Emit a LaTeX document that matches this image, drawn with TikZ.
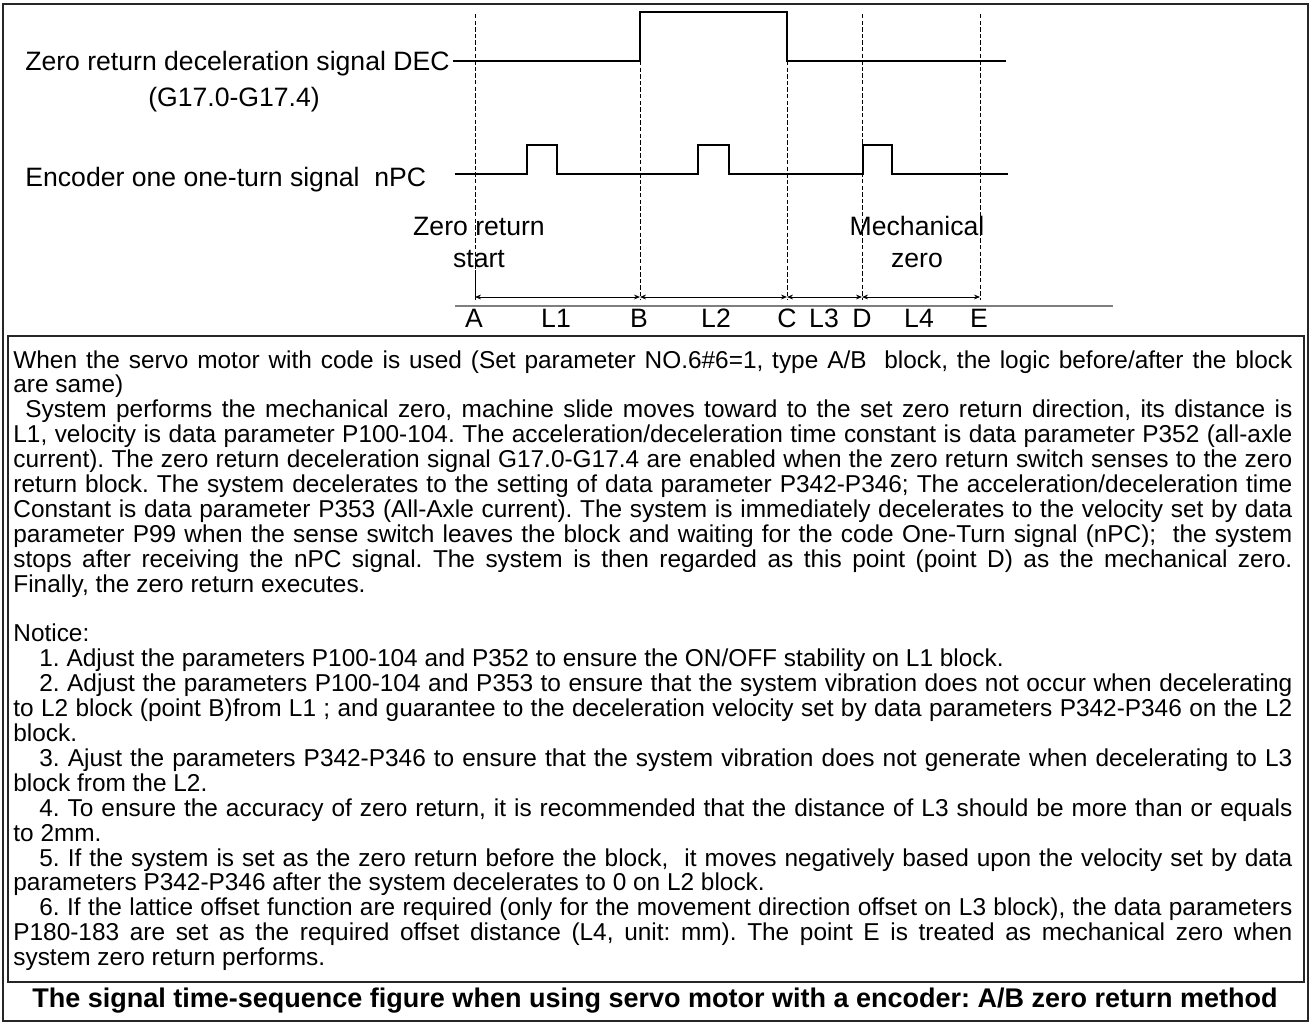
\documentclass[tikz,border=0pt]{standalone}
\usepackage{fontspec}
\setmainfont{Liberation Sans}
\usepackage{tikz}
\usetikzlibrary{arrows.meta, positioning}
\definecolor{AxisGray}{HTML}{7F7F7F}
\newcommand{\bodysize}{\fontsize{12.2}{12.45}\selectfont\lineskiplimit=-100pt\parskip=0pt\frenchspacing}
\newcommand{\labelsize}{\fontsize{13.3}{15}\selectfont}

\begin{document}
\begin{tikzpicture}[x=0.5pt, y=-0.5pt,
        signal/.style={line width=1.1pt, black},
        guide/.style={line width=0.35pt, dash pattern=on 2.2pt off 1.1pt},
        dimline/.style={line width=0.45pt, {Stealth[length=3pt,width=2.4pt]}-{Stealth[length=3pt,width=2.4pt]}},
        lbl/.style={inner sep=0pt, font=\labelsize, align=center}]
    \useasboundingbox (0,0) rectangle (1312,1023);
    \draw[line width=1.1pt, black!85] (3,4) rectangle (1308,1021);
    \draw[line width=0.6pt, black!85] (8,336) rectangle (1304,982);

    % signal names
    \node[lbl, anchor=base east] (decname) at (450,70) {Zero return deceleration signal DEC};
    \node[lbl] (decbits) at (234,100) {(G17.0-G17.4)};
    \node[lbl, anchor=base west] (npcname) at (25,186) {Encoder one one-turn signal\ \ nPC};

    % waveforms
    \draw[signal] (453,61) -- (640,61) -- (640,12) -- (787,12) -- (787,61) -- (1006,61);
    \draw[signal] (455,174) -- (527,174) -- (527,145) -- (557,145) -- (557,174)
        -- (698,174) -- (698,145) -- (729,145) -- (729,174)
        -- (863,174) -- (863,145) -- (892,145) -- (892,174) -- (1008,174);

    % guide lines and distances
    \foreach \nm/\x/\top in {A/475/14, B/640/61, C/787/61, D/862/14, E/980/14} {
        \coordinate (top\nm) at (\x,\top);
        \coordinate (dim\nm) at (\x,297);
    }
    \coordinate (footA) at (475,270);
    \draw[guide] (topA) -- (footA);
    \draw[line width=0.45pt] (footA) -- (475,300);
    \foreach \nm/\x in {B/640, C/787, D/862, E/980}
        \draw[guide] (top\nm) -- (\x,300);
    \foreach \a/\b in {A/B, B/C, C/D, D/E}
        \draw[dimline] (dim\a) -- (dim\b);

    \coordinate (axisL) at (455,306);
    \coordinate (axisR) at (1113,306);
    \draw[AxisGray, line width=0.8pt] (axisL) -- (axisR);

    \node[lbl] (start) at (479,242) {Zero return\\[1pt]start};
    \node[lbl] (mzero) at (917,242) {Mechanical\\[1pt]zero};
    \foreach \nm/\x in {A/474, L1/556, B/639, L2/716, C/787, L3/824, D/862, L4/919, E/979}
        \node[lbl] (mark\nm) at (\x,318) {\nm};

    % explanation
    \node[anchor=north west, inner sep=0pt, text width=639.5pt, align=justify, font=\bodysize] (body) at (13,350) {%
        When the servo motor with code is used (Set parameter NO.6\#6=1, type A/B\ \ block, the logic before/after the block\linebreak
        are same)\par
        \hspace*{6pt}System performs the mechanical zero, machine slide moves toward to the set zero return direction, its distance is\linebreak
        L1, velocity is data parameter P100-104. The acceleration/deceleration time constant is data parameter P352 (all-axle\linebreak
        current). The zero return deceleration signal G17.0-G17.4 are enabled when the zero return switch senses to the zero\linebreak
        return block. The system decelerates to the setting of data parameter P342-P346; The acceleration/deceleration time\linebreak
        Constant is data parameter P353 (All-Axle current). The system is immediately decelerates to the velocity set by data\linebreak
        parameter P99 when the sense switch leaves the block and waiting for the code One-Turn signal (nPC);\ \ the system\linebreak
        stops after receiving the nPC signal. The system is then regarded as this point (point D) as the mechanical zero.\linebreak
        Finally, the zero return executes.\par
        \mbox{}\par
        Notice:\par
        \hspace*{13pt}1. Adjust the parameters P100-104 and P352 to ensure the ON/OFF stability on L1 block.\par
        \hspace*{13pt}2. Adjust the parameters P100-104 and P353 to ensure that the system vibration does not occur when decelerating\linebreak
        to L2 block (point B)from L1 ; and guarantee to the deceleration velocity set by data parameters P342-P346 on the L2\linebreak
        block.\par
        \hspace*{13pt}3. Ajust the parameters P342-P346 to ensure that the system vibration does not generate when decelerating to L3\linebreak
        block from the L2.\par
        \hspace*{13pt}4. To ensure the accuracy of zero return, it is recommended that the distance of L3 should be more than or equals\linebreak
        to 2mm.\par
        \hspace*{13pt}5. If the system is set as the zero return before the block,\ \ it moves negatively based upon the velocity set by data\linebreak
        parameters P342-P346 after the system decelerates to 0 on L2 block.\par
        \hspace*{13pt}6. If the lattice offset function are required (only for the movement direction offset on L3 block), the data parameters\linebreak
        P180-183 are set as the required offset distance (L4, unit: mm). The point E is treated as mechanical zero when\linebreak
        system zero return performs.};

    \node[inner sep=0pt, font=\fontsize{13.5}{16}\bfseries\selectfont\frenchspacing] (caption) at (655,1001)
        {The signal time-sequence figure when using servo motor with a encoder: A/B zero return method};
\end{tikzpicture}
\end{document}
